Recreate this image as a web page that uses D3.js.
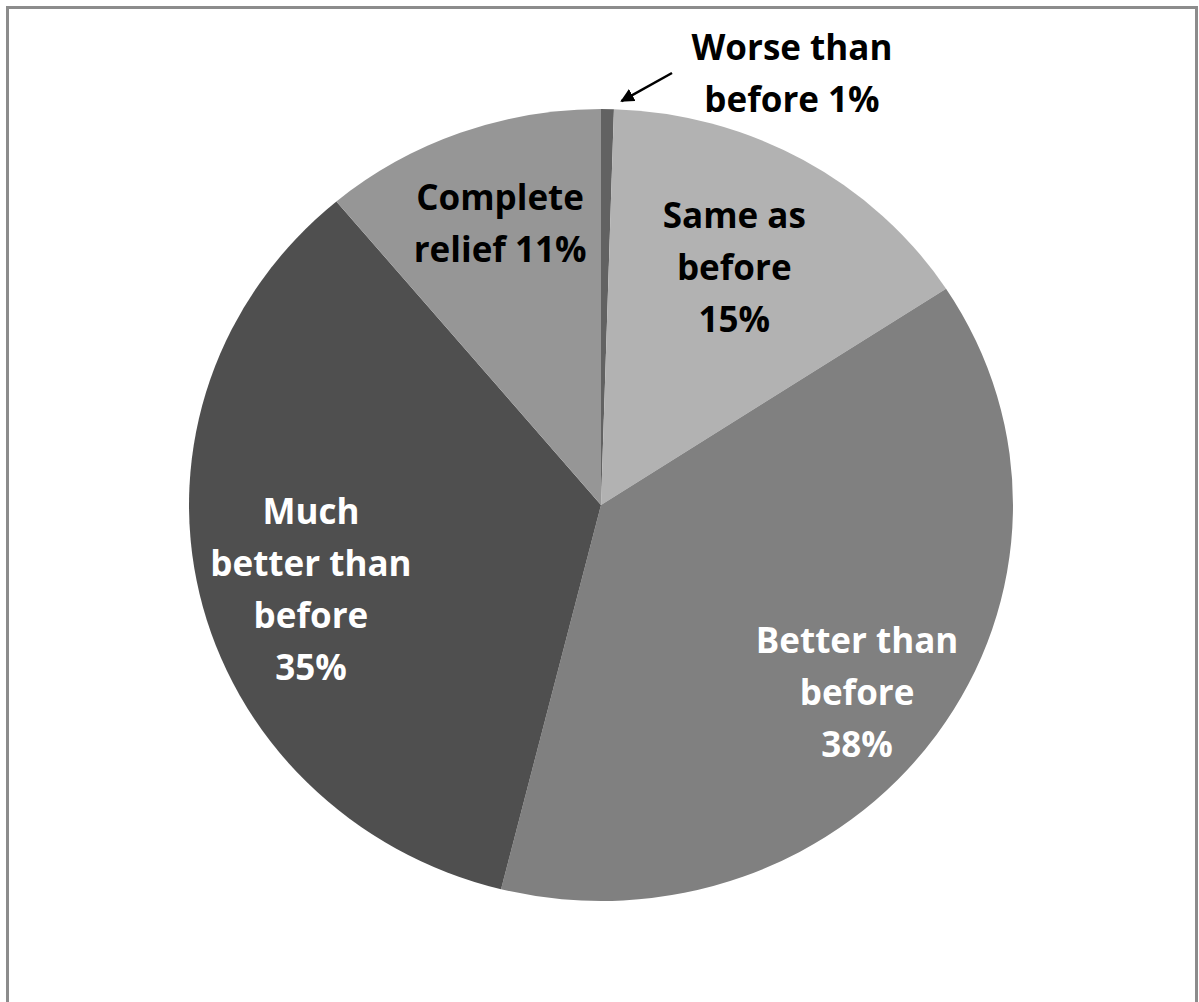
<!DOCTYPE html>
<html>
<head>
<meta charset="utf-8">
<script src="https://cdn.jsdelivr.net/npm/d3@7"></script>
<style>
  html, body { margin: 0; padding: 0; background: #fff; }
  svg { display: block; }
  text { font-family: "Open Sans", Lato, sans-serif; font-weight: 700; }
</style>
</head>
<body>
<svg id="chart" width="1199" height="1002"></svg>
<script>
// ---- data ----
const categories = ["Worse than before", "Same as before", "Better than before", "Much better than before", "Complete relief"];
const values = [0.5, 15.3, 38.1, 35.0, 11.1];
const labelLines = [
  ["Worse than", "before 1%"],
  ["Same as", "before", "15%"],
  ["Better than", "before", "38%"],
  ["Much", "better than", "before", "35%"],
  ["Complete", "relief 11%"]
];

// ---- styles ----
const colors = ["#626262", "#b2b2b2", "#808080", "#4f4f4f", "#969696"];
const textColors = ["#000", "#000", "#fff", "#fff", "#000"];
const labelRadiusFrac = [null, 0.675, 0.775, 0.725, 0.745];
const labelNudge = [null, [-3, -4], [-4, 10], [1, 20], [4, -4]];

const W = 1199, H = 1002;
const cx = 601, cy = 505, ry = 396, rx = 412;
const fontSize = 35, lineH = 52;

const svg = d3.select("#chart");

// frame
svg.append("rect")
  .attr("x", 7.5).attr("y", 7.5)
  .attr("width", 1189).attr("height", 1010)
  .attr("fill", "none").attr("stroke", "#8c8c8c").attr("stroke-width", 3);

const pie = d3.pie().sort(null).value(d => d)(values);
const arc = d3.arc().innerRadius(0).outerRadius(ry);

const g = svg.append("g").attr("transform", `translate(${cx},${cy})`);
const sx = rx / ry;

g.append("g").attr("transform", `scale(${sx},1)`)
  .selectAll("path").data(pie).join("path")
  .attr("d", arc)
  .attr("fill", (d, i) => colors[i]);

// labels inside slices
pie.forEach((d, i) => {
  if (labelRadiusFrac[i] == null) return;
  const a = (d.startAngle + d.endAngle) / 2;
  const r = ry * labelRadiusFrac[i];
  const x = Math.sin(a) * r * sx + labelNudge[i][0];
  const y = -Math.cos(a) * r + labelNudge[i][1];
  const lines = labelLines[i];
  const t = g.append("text")
    .attr("text-anchor", "middle")
    .attr("font-size", fontSize)
    .attr("fill", textColors[i]);
  lines.forEach((ln, k) => {
    t.append("tspan")
      .attr("x", x)
      .attr("y", y + (k - (lines.length - 1) / 2) * lineH)
      .attr("dy", "0.35em")
      .text(ln);
  });
});

// outside label for the tiny slice, with arrow
const d0 = pie[0];
const a0 = (d0.startAngle + d0.endAngle) / 2;
const tipX = Math.sin(a0) * ry * sx, tipY = -Math.cos(a0) * ry;
const lblX = 792 - cx, lblY = 74 - cy;

svg.append("defs").append("marker")
  .attr("id", "arrowhead")
  .attr("viewBox", "0 0 10 10").attr("refX", 9).attr("refY", 5)
  .attr("markerWidth", 5.5).attr("markerHeight", 5.5)
  .attr("markerUnits", "strokeWidth")
  .attr("orient", "auto")
  .append("path").attr("d", "M0,0 L10,5 L0,10 Z").attr("fill", "#000");

g.append("line")
  .attr("x1", 672 - cx).attr("y1", 73 - cy)
  .attr("x2", tipX + 14).attr("y2", tipY - 8)
  .attr("stroke", "#000").attr("stroke-width", 2.5)
  .attr("marker-end", "url(#arrowhead)");

const t0 = g.append("text")
  .attr("text-anchor", "middle")
  .attr("font-size", fontSize)
  .attr("fill", textColors[0]);
labelLines[0].forEach((ln, k) => {
  t0.append("tspan")
    .attr("x", lblX)
    .attr("y", lblY + (k - 0.5) * lineH)
    .attr("dy", "0.35em")
    .text(ln);
});
</script>
</body>
</html>
